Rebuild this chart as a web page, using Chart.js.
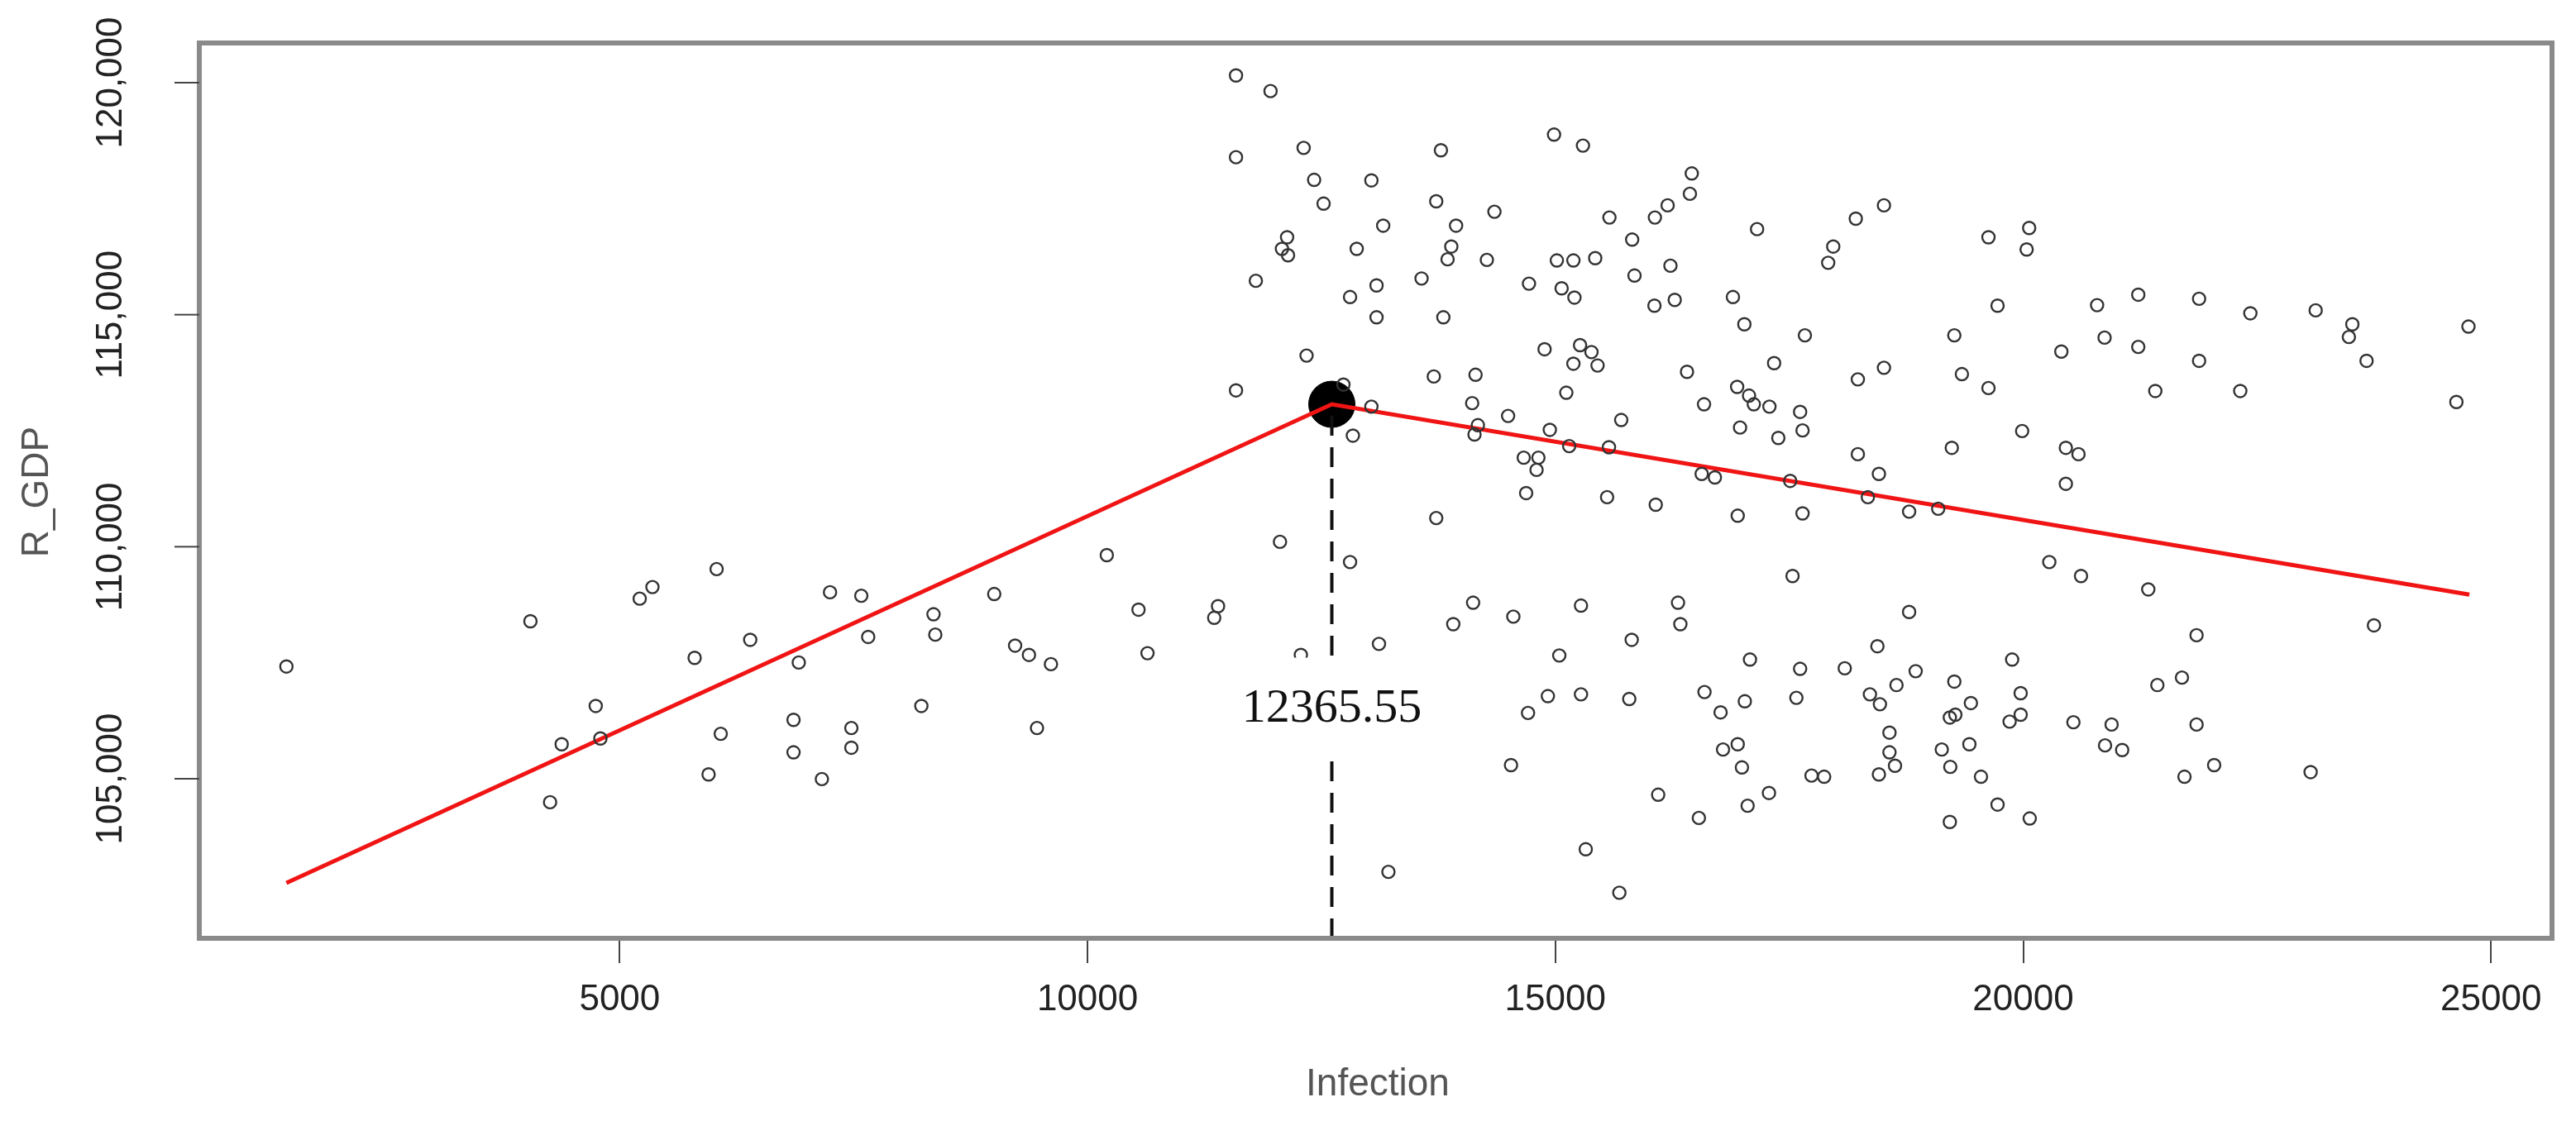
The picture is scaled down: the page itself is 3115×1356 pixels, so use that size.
<!DOCTYPE html>
<html>
<head>
<meta charset="utf-8">
<script src="https://cdn.jsdelivr.net/npm/chart.js@4.4.1/dist/chart.umd.min.js"></script>
<style>
  html, body { margin: 0; padding: 0; background: #fff; }
  #wrap { width: 3115px; height: 1356px; }
</style>
</head>
<body>
<div id="wrap"><canvas id="chart" width="3115" height="1356"></canvas></div>
<script>
// ── Data ────────────────────────────────────────────────────
const infection = [
  1438, 4046, 4256, 4380, 4744, 4794, 5214, 5350, 5801, 5950, 6036, 6080, 6395, 6858, 6858,
  6914, 7161, 7248, 7476, 7476, 7582, 7656, 8224, 8354, 8373, 9003, 9226, 9374, 9460, 9609,
  10206, 11587, 11956, 11587, 12310, 12422, 13034, 12523, 12133, 12078, 12143, 12877, 13160,
  11799, 12806, 13089, 13089, 12341, 11587, 12735, 13034, 12836, 12057, 12806, 10545, 11395,
  11354, 10641, 13115, 12280, 13216, 13777, 13727, 13939, 13888, 13848, 14349, 14268, 13570,
  13803, 13701, 14147, 14111, 14172, 14136, 14495, 13727, 14121, 13909, 14551, 14986, 15295,
  15578, 15821, 15016, 15193, 15426, 14718, 15067, 15204, 15846, 16064, 16200, 16438, 16458,
  16230, 16059, 16276, 17156, 16898, 17020, 14885, 15264, 15386, 15193, 15451, 15117, 14941,
  15148, 15573, 15704, 14662, 14819, 14799, 14688, 15553, 16073, 16407, 16589, 16943, 17070,
  17121, 17288, 16974, 17338, 17667, 17616, 17642, 17383, 16564, 16705, 17510, 16949, 17642,
  17535, 15274, 16311, 16336, 15816, 15042, 14920, 15274, 14708, 15790, 14526, 16099, 16594,
  16766, 17025, 17080, 17616, 17576, 16792, 16949, 16994, 16534, 17055, 17283, 17738, 15325,
  15684,
  18512, 18211, 17970, 17916, 19629, 20064, 20037, 19726, 20790, 21230, 21880, 22428, 23126,
  23518, 23481, 23670, 24759, 24630, 19264, 20408, 20870, 21230, 21880, 21412, 22320, 18233,
  18512, 19345, 19629, 19989, 19237, 20456, 20591, 20456, 18233, 18458, 18340, 18781, 19092,
  20279, 20618, 21337, 18781, 21853, 23749, 18442, 18093, 18362, 18469, 18646, 18851, 19264,
  19441, 19275, 19216, 19882, 19973, 19973, 19855, 18571, 18571, 18630, 18458, 17873, 19130,
  19425, 19221, 19549, 19726, 19216, 20070, 20537, 20945, 20875, 21058, 21434, 21697, 21853,
  21724, 22041, 23072
];
const rGdp = [
  107419, 108394, 104494, 105744, 106569, 105869, 108881, 109131, 107606, 105094, 109519, 105969, 107994, 106269, 105569,
  107506, 104994, 109019, 106094, 105669, 108944, 108056, 106569, 108544, 108106, 108981, 107869, 107669, 106094, 107469,
  109819, 120156, 119819, 118394, 118594, 117906, 117894, 117394, 116669, 116419, 116281, 116419, 116919,
  115731, 115381, 115631, 114944, 114119, 113369, 113494, 113019, 112394, 110106, 109669, 108644, 108719,
  108469, 107706, 107906, 107669, 102994, 118544, 117444, 116919, 116469, 116194, 117219, 116181, 115781,
  114944, 113669, 113706, 113094, 112619, 112419, 112819, 110619, 108794, 108331, 108494, 118881, 118644,
  117094, 116619, 116169, 116169, 116219, 115669, 115569, 115369, 115844, 117094, 117356, 117606, 118044,
  116056, 115194, 115319, 116844, 115381, 114794, 114256, 114344, 114194, 113944, 113906, 113319, 112519,
  112169, 112144, 112731, 111919, 111919, 111656, 111156, 111069, 110906, 113769, 113069, 113444, 113256,
  113069, 113019, 112569, 113956, 114556, 112906, 112506, 112344, 111569, 111494, 111419, 110669, 110719,
  109369, 108731, 108794, 108331, 107994, 107656, 106781, 106819, 106419, 106719, 105294, 104656, 106869,
  106431, 106669, 107569, 107369, 106744, 105631, 105744, 105244, 104156, 104419, 104694, 105069, 103481,
  102544,
  117356, 117069, 116469, 116119, 116669, 116869, 116406, 115194, 115206, 115431, 115344, 115031, 115094,
  114794, 114519, 114006, 114744, 113119, 114556, 114206, 114506, 114306, 114006, 113356, 113356, 113606,
  113856, 113719, 113419, 112494, 112131, 112131, 111994, 111356, 111994, 111569, 111069, 110756, 110819,
  109669, 109369, 109081, 108594, 108094, 108306, 107856, 107381, 106819, 106606, 107019, 107319, 107094,
  106631, 106381, 106319, 107569, 106844, 106381, 106231, 105994, 105569, 105281, 105094, 105044, 105631,
  105744, 105256, 105044, 104444, 104069, 104144, 106219, 106169, 105719, 105619, 107019, 107181, 106169,
  105044, 105294, 105144
];

// piecewise fit (start, breakpoint, end)
const fitX = [1438, 12611, 24769];
const fitY = [102757, 113069, 108969];
const breakLabel = "12365.55";
const breakLabelY = 106506;

const xTicks = [5000, 10000, 15000, 20000, 25000];
const yTicks = [105000, 110000, 115000, 120000];

// ── Plot frame + y labels + breakpoint label ────────────────
const framePlugin = {
  id: "frame",
  afterDraw(chart) {
    const { ctx, chartArea: a, scales: { x, y } } = chart;
    ctx.save();
    // box
    ctx.strokeStyle = "#8a8a8a";
    ctx.lineWidth = 6;
    ctx.strokeRect(a.left, a.top, a.right - a.left, a.bottom - a.top);
    // y ticks + rotated labels
    ctx.strokeStyle = "#444";
    ctx.lineWidth = 2;
    ctx.fillStyle = "#222";
    ctx.font = "44px 'Liberation Sans Narrow', 'Liberation Sans', Arial";
    ctx.textAlign = "center";
    ctx.textBaseline = "middle";
    yTicks.forEach(v => {
      const py = y.getPixelForValue(v);
      ctx.beginPath();
      ctx.moveTo(a.left - 30, py);
      ctx.lineTo(a.left, py);
      ctx.stroke();
      ctx.save();
      ctx.translate(135, py);
      ctx.rotate(-Math.PI / 2);
      ctx.fillText(v.toLocaleString("en-US"), 0, 0);
      ctx.restore();
    });
    // axis titles
    ctx.fillStyle = "#555";
    ctx.font = "46px 'Liberation Sans', Arial";
    ctx.save();
    ctx.translate(45, 595);
    ctx.rotate(-Math.PI / 2);
    ctx.fillText("R_GDP", 0, 0);
    ctx.restore();
    ctx.fillText("Infection", 1666, 1312);
    // breakpoint label over dashed line
    const bx = x.getPixelForValue(fitX[1]);
    const by = y.getPixelForValue(breakLabelY);
    ctx.font = "58px 'Liberation Serif', 'Times New Roman', serif";
    const w = ctx.measureText(breakLabel).width;
    ctx.fillStyle = "#fff";
    ctx.fillRect(bx - w / 2 - 4, by - 62, w + 8, 124);
    ctx.fillStyle = "#111";
    ctx.fillText(breakLabel, bx, by);
    ctx.restore();
  }
};

// ── Chart ───────────────────────────────────────────────────
const ctx = document.getElementById("chart").getContext("2d");
new Chart(ctx, {
  data: {
    datasets: [
      {
        type: "line",
        label: "breakpoint",
        data: [{ x: fitX[1], y: 101562 }, { x: fitX[1], y: fitY[1] }],
        borderColor: "#111",
        borderWidth: 4,
        borderDash: [24, 14],
        pointRadius: 0
      },
      {
        type: "scatter",
        label: "obs",
        data: infection.map((v, i) => ({ x: v, y: rGdp[i] })),
        pointStyle: "circle",
        pointRadius: 7.5,
        borderWidth: 2.4,
        borderColor: "#333",
        backgroundColor: "rgba(0,0,0,0)"
      },
      {
        type: "line",
        label: "fit",
        data: fitX.map((v, i) => ({ x: v, y: fitY[i] })),
        borderColor: "#f01414",
        borderWidth: 5,
        pointRadius: 0,
        tension: 0
      },
      {
        type: "scatter",
        label: "bp",
        data: [{ x: fitX[1], y: fitY[1] }],
        pointRadius: 28,
        backgroundColor: "#000",
        borderColor: "#000"
      }
    ]
  },
  options: {
    responsive: false,
    animation: false,
    layout: { padding: { top: 52, right: 20, left: 0, bottom: 0 } },
    plugins: { legend: { display: false }, tooltip: { enabled: false } },
    scales: {
      x: {
        type: "linear",
        min: 507, max: 25652,
        afterBuildTicks: s => { s.ticks = xTicks.map(v => ({ value: v })); },
        afterFit: s => { s.height = 221; },
        border: { display: false },
        grid: { drawOnChartArea: false, drawTicks: true, tickLength: 30, color: "#444", lineWidth: 2 },
        ticks: {
          color: "#222",
          padding: 18,
          maxRotation: 0,
          font: { family: "'Liberation Sans Narrow', 'Liberation Sans', Arial", size: 44 },
          callback: v => String(v)
        }
      },
      y: {
        type: "linear",
        min: 101562, max: 120855,
        afterBuildTicks: s => { s.ticks = yTicks.map(v => ({ value: v })); },
        afterFit: s => { s.width = 241; },
        border: { display: false },
        grid: { display: false },
        ticks: { display: false }
      }
    }
  },
  plugins: [framePlugin]
});
</script>
</body>
</html>
